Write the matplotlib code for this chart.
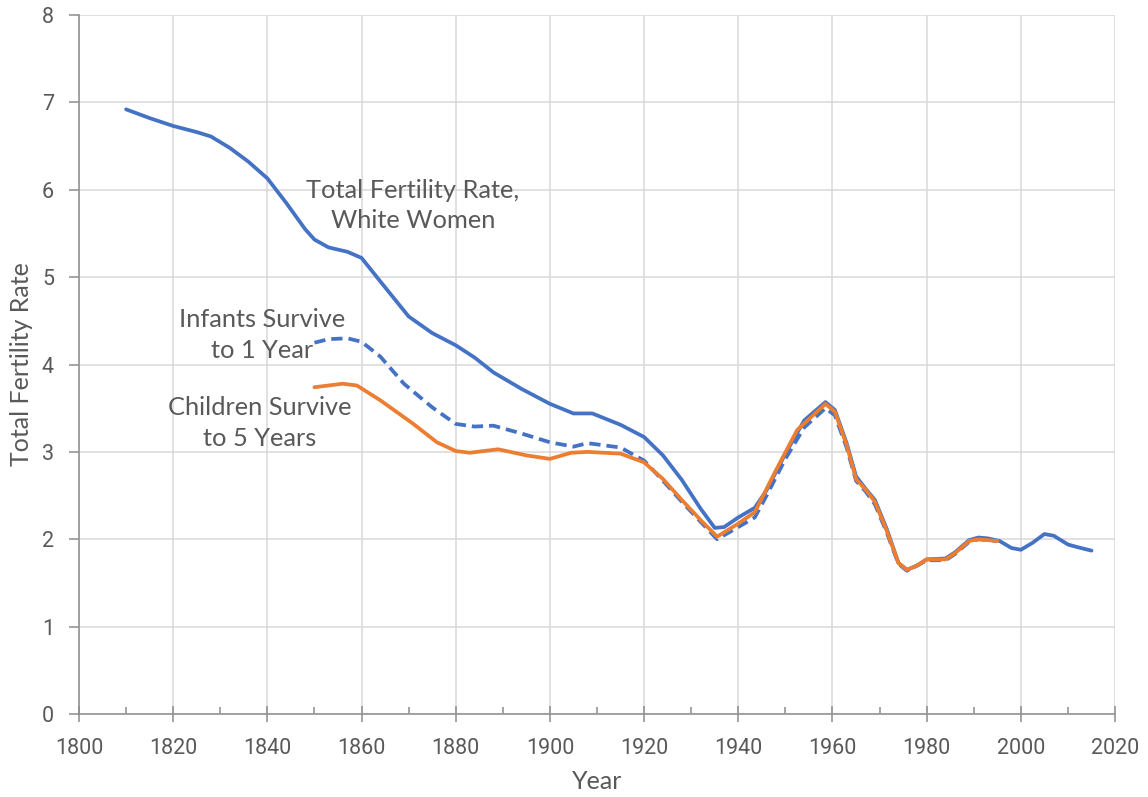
import matplotlib.pyplot as plt
from matplotlib.ticker import MultipleLocator

# total fertility rate, white women
tfr_years = [1810, 1815, 1820, 1825, 1828, 1832, 1836, 1840, 1844, 1848, 1850, 1853, 1857, 1860,
             1864, 1867, 1870, 1875, 1880, 1884, 1888, 1894, 1900, 1905, 1909, 1915, 1920, 1924,
             1928, 1932, 1935, 1937, 1940, 1943.5, 1946, 1950, 1954, 1958.5, 1960.5, 1963, 1965,
             1967, 1969, 1971.5, 1974, 1975.8, 1978, 1980, 1984, 1986, 1989, 1991, 1993, 1995.5,
             1998, 2000, 2002.5, 2005, 2007, 2010, 2012, 2015]
tfr_vals = [6.92, 6.82, 6.73, 6.66, 6.61, 6.48, 6.32, 6.13, 5.85, 5.55, 5.43, 5.34, 5.29, 5.22,
            4.95, 4.75, 4.55, 4.36, 4.22, 4.08, 3.91, 3.72, 3.55, 3.44, 3.44, 3.31, 3.17, 2.96,
            2.68, 2.35, 2.13, 2.14, 2.25, 2.36, 2.56, 2.98, 3.36, 3.57, 3.48, 3.10, 2.72,
            2.58, 2.45, 2.12, 1.73, 1.65, 1.70, 1.77, 1.78, 1.85, 1.99, 2.02, 2.01, 1.98,
            1.90, 1.88, 1.96, 2.06, 2.04, 1.94, 1.91, 1.87]

# infants survive to 1 year
inf_years = [1850, 1853, 1857, 1860, 1864, 1869, 1875, 1880, 1884, 1888, 1894, 1900, 1905, 1908,
             1915, 1920, 1924, 1928, 1932, 1935.5, 1940, 1943.5, 1946, 1950, 1954, 1958.5, 1960.5,
             1963, 1965, 1967, 1969, 1971.5, 1974, 1975.8, 1978, 1980, 1984, 1986, 1989, 1991, 1995]
inf_vals = [4.25, 4.29, 4.30, 4.26, 4.09, 3.78, 3.51, 3.32, 3.29, 3.30, 3.21, 3.11, 3.06, 3.10,
            3.05, 2.90, 2.67, 2.43, 2.20, 2.00, 2.14, 2.25, 2.50, 2.92, 3.28, 3.50, 3.42,
            3.05, 2.67, 2.55, 2.40, 2.08, 1.72, 1.64, 1.70, 1.76, 1.76, 1.83, 1.97, 2.00, 1.98]

# children survive to 5 years
chd_years = [1850, 1853, 1856, 1859, 1864, 1871, 1876, 1880, 1883, 1889, 1895, 1900, 1904.5, 1908,
             1915, 1920, 1924, 1928, 1932, 1935.5, 1940, 1943.5, 1948, 1952.5, 1958.5, 1960.5,
             1963, 1965, 1967, 1969, 1971.5, 1974, 1975.8, 1978, 1980, 1984, 1986, 1989, 1991, 1995]
chd_vals = [3.74, 3.76, 3.78, 3.76, 3.59, 3.32, 3.11, 3.01, 2.99, 3.03, 2.96, 2.92, 2.99, 3.00,
            2.98, 2.88, 2.69, 2.45, 2.22, 2.03, 2.18, 2.31, 2.79, 3.25, 3.55, 3.46,
            3.08, 2.69, 2.57, 2.43, 2.10, 1.73, 1.65, 1.70, 1.77, 1.77, 1.84, 1.98, 2.00, 1.98]

blue = '#4472C4'
orange = '#ED7D31'
txt = '#595959'
plt.rcParams['font.family'] = ['Roboto', 'DejaVu Sans']
title_font = ['Lato', 'DejaVu Sans']

fig = plt.figure(figsize=(11.48, 7.97), dpi=100)
ax = fig.add_axes([0.0688, 0.1041, 0.9025, 0.8771])

ax.plot(tfr_years, tfr_vals, color=blue, lw=2.7, solid_capstyle='round', zorder=3)
ax.plot(inf_years, inf_vals, color=blue, lw=2.7, dashes=(3, 1.6), zorder=4)
ax.plot(chd_years, chd_vals, color=orange, lw=2.7, solid_capstyle='round', zorder=5)

ax.set_xlim(1800, 2020)
ax.set_ylim(0, 8)
ax.xaxis.set_major_locator(MultipleLocator(20))
ax.xaxis.set_minor_locator(MultipleLocator(10))
ax.yaxis.set_major_locator(MultipleLocator(1))
ax.grid(True, which='major', color='#D9D9D9', lw=1.1, zorder=0)
ax.set_axisbelow(True)

for s in ['top', 'right']:
    ax.spines[s].set_visible(False)
for s in ['left', 'bottom']:
    ax.spines[s].set_color('#8C8C8C')
    ax.spines[s].set_linewidth(1.1)

ax.tick_params(axis='x', which='major', direction='inout', length=12, width=1.1,
               color='#8C8C8C', labelsize=15.5, labelcolor=txt, pad=11)
ax.tick_params(axis='x', which='minor', direction='in', length=5, width=1.1, color='#8C8C8C')
ax.tick_params(axis='y', which='major', direction='out', length=7, width=1.1,
               color='#8C8C8C', labelsize=15.5, labelcolor=txt, pad=11)

ax.set_xlabel('Year', fontsize=18, color=txt, family=title_font)
ax.set_ylabel('Total Fertility Rate', fontsize=18, color=txt, family=title_font)
ax.xaxis.set_label_coords(0.5, -0.097)
ax.xaxis.label.set_va('center')
ax.yaxis.set_label_coords(-0.055, 0.5)
ax.yaxis.label.set_va('center')
ax.yaxis.label.set_ha('center')
ax.yaxis.label.set_rotation_mode('default')

lbl = dict(fontsize=18.3, color=txt, ha='center', va='center', family=title_font,
           linespacing=1.4)
ax.text(1870.9, 5.82, 'Total Fertility Rate,\nWhite Women', **lbl)
ax.text(1838.9, 4.34, 'Infants Survive\nto 1 Year', **lbl)
ax.text(1838.4, 3.33, 'Children Survive\nto 5 Years', **lbl)

fig.savefig('out.png', dpi=100)
